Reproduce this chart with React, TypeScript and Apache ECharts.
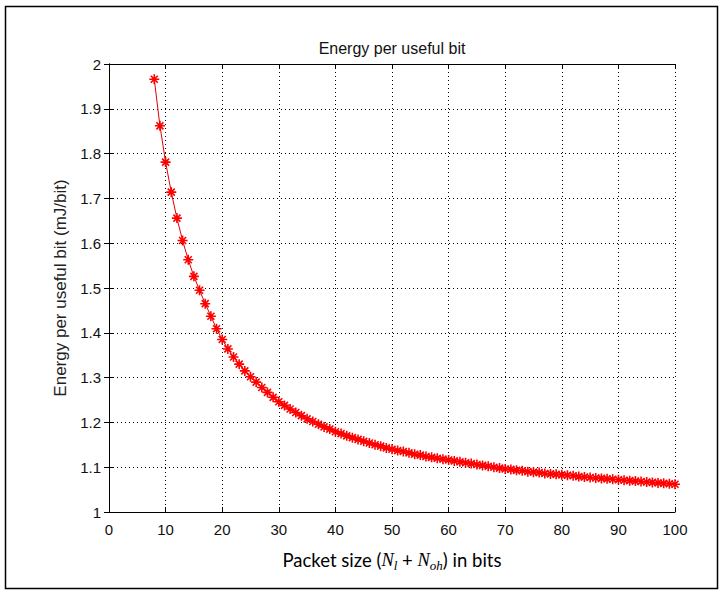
import React, { useEffect, useRef } from "react";
import * as echarts from "echarts";

const packetSizes = [
  8, 9, 10, 11, 12, 13, 14, 15, 16, 17, 18, 19, 20, 21, 22, 23, 24, 25, 26, 27,
  28, 29, 30, 31, 32, 33, 34, 35, 36, 37, 38, 39, 40, 41, 42, 43, 44, 45, 46, 47,
  48, 49, 50, 51, 52, 53, 54, 55, 56, 57, 58, 59, 60, 61, 62, 63, 64, 65, 66, 67,
  68, 69, 70, 71, 72, 73, 74, 75, 76, 77, 78, 79, 80, 81, 82, 83, 84, 85, 86, 87,
  88, 89, 90, 91, 92, 93, 94, 95, 96, 97, 98, 99, 100,
];

const energyPerBit = [
  1.966, 1.862, 1.781, 1.714, 1.656, 1.606, 1.563, 1.526, 1.495, 1.465,
  1.437, 1.409, 1.385, 1.364, 1.346, 1.33, 1.315, 1.302, 1.29, 1.278,
  1.267, 1.256, 1.246, 1.238, 1.23, 1.222, 1.215, 1.208, 1.202, 1.196,
  1.19, 1.185, 1.179, 1.175, 1.17, 1.166, 1.162, 1.158, 1.154, 1.15,
  1.147, 1.143, 1.14, 1.137, 1.135, 1.132, 1.129, 1.127, 1.124, 1.122,
  1.12, 1.118, 1.116, 1.114, 1.112, 1.11, 1.108, 1.106, 1.104, 1.102,
  1.1, 1.098, 1.096, 1.095, 1.093, 1.092, 1.09, 1.089, 1.088, 1.086,
  1.085, 1.084, 1.083, 1.082, 1.081, 1.079, 1.078, 1.077, 1.076, 1.075,
  1.074, 1.073, 1.072, 1.071, 1.07, 1.069, 1.068, 1.067, 1.066, 1.065,
  1.064, 1.063, 1.062,
];

const xRange = [0, 100];
const xStep = 10;
const yRange = [1, 2];
const yStep = 0.1;

const titleText = "Energy per useful bit";
const yAxisTitle = "Energy per useful bit (mJ/bit)";

export default function App() {
  const ref = useRef<HTMLDivElement>(null);

  useEffect(() => {
    document.body.style.margin = "0";
    if (!ref.current) return;
    const chart = echarts.init(ref.current, undefined, { renderer: "svg" });

    const tickFont = "Liberation Sans";
    const gridLine = { show: true, lineStyle: { type: [1, 3] as any, color: "#000", width: 1 } };
    const axisLine = { show: true, lineStyle: { color: "#000", width: 1 } };
    const axisTick = { show: true, inside: true, length: 5, lineStyle: { color: "#000", width: 1 } };

    const option: any = {
      animation: false,
      backgroundColor: "#fff",
      grid: { left: 109, top: 64, width: 566, height: 448, containLabel: false },
      xAxis: [
        {
          type: "value",
          position: "bottom",
          min: xRange[0],
          max: xRange[1],
          interval: xStep,
          axisLine,
          axisTick,
          axisLabel: { fontSize: 15, color: "#111", margin: 10, fontFamily: tickFont },
          splitLine: gridLine,
        },
        {
          type: "value",
          position: "top",
          min: xRange[0],
          max: xRange[1],
          interval: xStep,
          axisLine,
          axisTick,
          axisLabel: { show: false },
          splitLine: { show: false },
        },
      ],
      yAxis: [
        {
          type: "value",
          position: "left",
          min: yRange[0],
          max: yRange[1],
          interval: yStep,
          axisLine,
          axisTick,
          axisLabel: {
            fontSize: 15,
            color: "#111",
            margin: 8,
            fontFamily: tickFont,
            formatter: (v: number) => String(Math.round(v * 10) / 10),
          },
          splitLine: gridLine,
          name: yAxisTitle,
          nameLocation: "middle",
          nameGap: 37,
          nameTextStyle: { fontSize: 17, color: "#222", fontFamily: tickFont },
        },
        {
          type: "value",
          position: "right",
          min: yRange[0],
          max: yRange[1],
          interval: yStep,
          axisLine,
          axisTick,
          axisLabel: { show: false },
          splitLine: { show: false },
        },
      ],
      graphic: [
        {
          type: "rect",
          shape: { x: 5.5, y: 6.5, width: 712, height: 582 },
          style: { fill: "none", stroke: "#000", lineWidth: 1.5 },
          silent: true,
        },
        {
          type: "text",
          x: 392,
          y: 48,
          style: {
            text: titleText,
            fontSize: 16,
            fontFamily: tickFont,
            fill: "#111",
            textAlign: "center",
            textVerticalAlign: "middle",
          },
        },
        {
          type: "text",
          x: 392,
          y: 560,
          style: {
            text: "{a|Packet size (}{n|N}{s|l}{a| + }{n|N}{s|oh}{a|) in bits}",
            textAlign: "center",
            textVerticalAlign: "middle",
            rich: {
              a: { fontSize: 18.5, fontFamily: "Lato", fill: "#000", lineHeight: 24, verticalAlign: "middle" },
              n: { fontSize: 18.5, fontFamily: "Liberation Serif", fontStyle: "italic", fill: "#000", lineHeight: 24, verticalAlign: "middle" },
              s: { fontSize: 13, fontFamily: "Liberation Serif", fontStyle: "italic", fill: "#000", lineHeight: 24, verticalAlign: "bottom", padding: [6, 0, 0, 0] },
            },
          },
        },
      ],
      series: [
        {
          type: "line",
          xAxisIndex: 0,
          yAxisIndex: 0,
          data: packetSizes.map((x, i) => [x, energyPerBit[i]]),
          showAllSymbol: true,
          symbol: "path://M5,0L5,10M0,5L10,5M1.5,1.5L8.5,8.5M1.5,8.5L8.5,1.5",
          symbolSize: 10,
          itemStyle: { color: "none", borderColor: "#ff0000", borderWidth: 1.6 },
          lineStyle: { color: "#e00000", width: 1 },
        },
      ],
    };

    chart.setOption(option);
    return () => chart.dispose();
  }, []);

  return <div ref={ref} style={{ width: 723, height: 592 }} />;
}
